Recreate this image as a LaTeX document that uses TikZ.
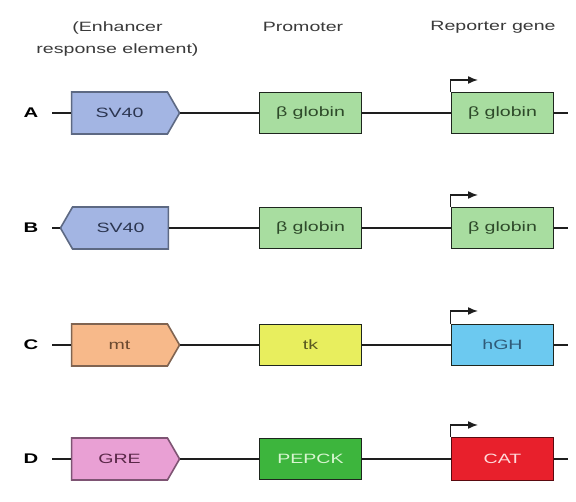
\documentclass[tikz,border=0pt]{standalone}
\usepackage{fontspec}
\setmainfont{Liberation Sans}[FakeStretch=1.45]
\usetikzlibrary{shapes.symbols,arrows.meta}

\definecolor{svfill}{HTML}{A3B5E3}
\definecolor{svline}{HTML}{5D6983}
\definecolor{svtext}{HTML}{2B3550}
\definecolor{mtfill}{HTML}{F7B98A}
\definecolor{mtline}{HTML}{806451}
\definecolor{mttext}{HTML}{6B4A30}
\definecolor{grefill}{HTML}{E9A0D4}
\definecolor{greline}{HTML}{7E5473}
\definecolor{gretext}{HTML}{5A2848}
\definecolor{globfill}{HTML}{A8DDA0}
\definecolor{globtext}{HTML}{2E4A2A}
\definecolor{tkfill}{HTML}{E8EE5E}
\definecolor{tktext}{HTML}{5A5A20}
\definecolor{hghfill}{HTML}{6CC9F0}
\definecolor{hghtext}{HTML}{2F5A78}
\definecolor{pepfill}{HTML}{3DB53D}
\definecolor{peptext}{HTML}{D8F5D0}
\definecolor{catfill}{HTML}{E8202C}
\definecolor{catline}{HTML}{5A0A10}
\definecolor{cattext}{HTML}{FFDADA}
\definecolor{boxline}{HTML}{1E261E}
\definecolor{dnaline}{HTML}{1E1E1E}
\definecolor{headtext}{HTML}{3A3A3A}

\begin{document}
\begin{tikzpicture}[x=1pt,y=-1pt,
  font=\fontsize{13.5}{22.5}\selectfont,
  enh/.style={shape=signal, signal from=nowhere, signal pointer angle=120,
    minimum width=108pt, minimum height=42pt, inner sep=0pt, line width=1.6pt},
  gene/.style={draw=boxline, line width=1.8pt, minimum width=102pt,
    minimum height=41pt, inner sep=0pt},
  dna/.style={draw=dnaline, line width=1.8pt},
  tss/.style={draw=dnaline, line width=1.5pt, -{Latex[length=10pt,width=8pt]}},
  rowlab/.style={font=\fontsize{14}{16}\selectfont\bfseries},
  head/.style={text=headtext, align=center}]

\useasboundingbox (0,0) rectangle (576,502);

% column headings
\node[head] (hE) at (117.5,39) {(Enhancer\\response element)};
\node[head] (hP) at (303,27) {Promoter};
\node[head] (hR) at (493,27) {Reporter gene};

% row A
\node[rowlab] (lA) at (31,113) {A};
\coordinate (sA) at (52,113);
\node[enh, signal to=east, fill=svfill, draw=svline, text=svtext] (eA) at (119.5,113) {SV40};
\node[gene, fill=globfill, text=globtext] (pA) at (310.5,113) {β globin};
\node[gene, fill=globfill, text=globtext] (rA) at (502.5,113) {β globin};
\coordinate (zA) at (568,113);
\coordinate (tA) at (478,80);
\draw[dna] (sA) -- (eA.west);
\draw[dna] (eA.east) -- (pA.west);
\draw[dna] (pA.east) -- (rA.west);
\draw[dna] (rA.east) -- (zA);
\draw[tss] (rA.north west) |- (tA);

% row B
\node[rowlab] (lB) at (31,228) {B};
\coordinate (sB) at (52,228);
\node[enh, signal to=west, fill=svfill, draw=svline, text=svtext] (eB) at (120.5,228) {SV40};
\node[gene, fill=globfill, text=globtext] (pB) at (310.5,228) {β globin};
\node[gene, fill=globfill, text=globtext] (rB) at (502.5,228) {β globin};
\coordinate (zB) at (568,228);
\coordinate (tB) at (478,195);
\draw[dna] (sB) -- (eB.west);
\draw[dna] (eB.east) -- (pB.west);
\draw[dna] (pB.east) -- (rB.west);
\draw[dna] (rB.east) -- (zB);
\draw[tss] (rB.north west) |- (tB);

% row C
\node[rowlab] (lC) at (31,345) {C};
\coordinate (sC) at (52,345);
\node[enh, signal to=east, fill=mtfill, draw=mtline, text=mttext] (eC) at (119.5,345) {mt};
\node[gene, fill=tkfill, text=tktext] (pC) at (310.5,345) {tk};
\node[gene, fill=hghfill, text=hghtext] (rC) at (502.5,345) {hGH};
\coordinate (zC) at (568,345);
\coordinate (tC) at (478,311);
\draw[dna] (sC) -- (eC.west);
\draw[dna] (eC.east) -- (pC.west);
\draw[dna] (pC.east) -- (rC.west);
\draw[dna] (rC.east) -- (zC);
\draw[tss] (rC.north west) |- (tC);

% row D
\node[rowlab] (lD) at (31,459) {D};
\coordinate (sD) at (52,459);
\node[enh, signal to=east, fill=grefill, draw=greline, text=gretext] (eD) at (119.5,459) {GRE};
\node[gene, fill=pepfill, text=peptext] (pD) at (310.5,459) {PEPCK};
\node[gene, fill=catfill, draw=catline, text=cattext, minimum height=43pt] (rD) at (502.5,459) {CAT};
\coordinate (zD) at (568,459);
\coordinate (tD) at (478,425);
\draw[dna] (sD) -- (eD.west);
\draw[dna] (eD.east) -- (pD.west);
\draw[dna] (pD.east) -- (rD.west);
\draw[dna] (rD.east) -- (zD);
\draw[tss] (rD.north west) |- (tD);

\end{tikzpicture}
\end{document}
